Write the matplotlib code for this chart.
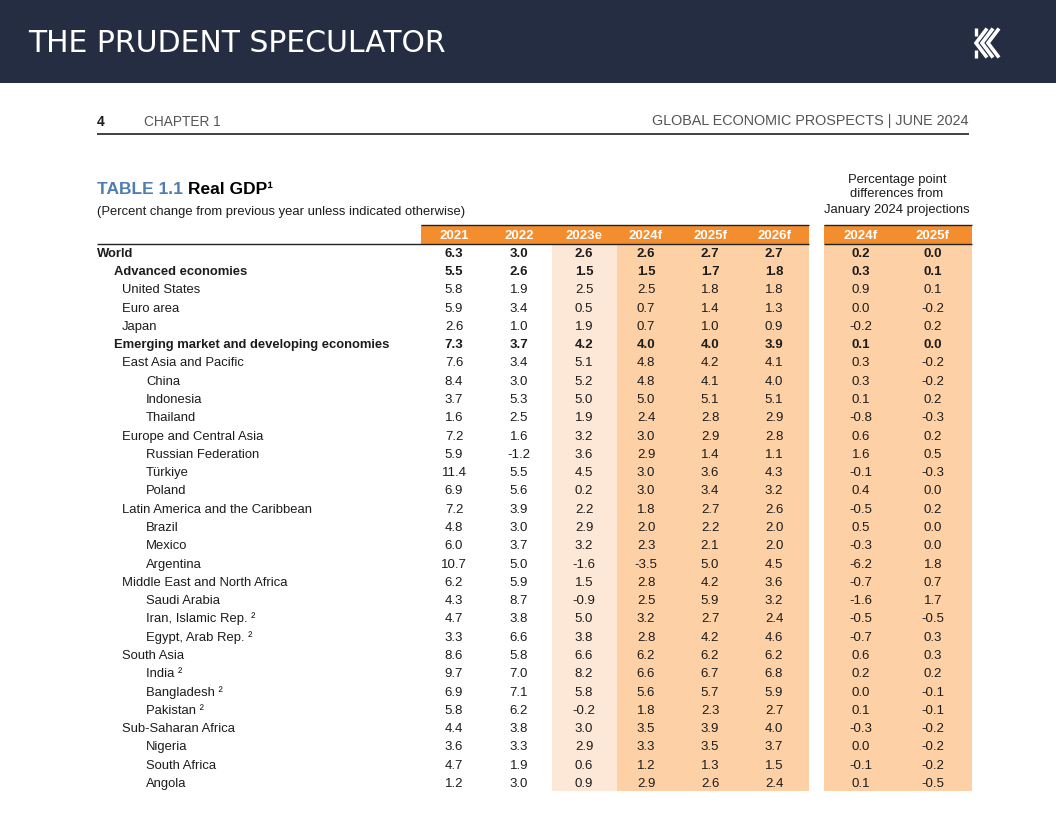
import matplotlib
matplotlib.use("Agg")
import matplotlib.pyplot as plt
from matplotlib.patches import Rectangle

# ---------------- data ----------------
regions = [
    "World", "Advanced economies", "United States", "Euro area", "Japan",
    "Emerging market and developing economies", "East Asia and Pacific",
    "China", "Indonesia", "Thailand", "Europe and Central Asia",
    "Russian Federation", "Türkiye", "Poland", "Latin America and the Caribbean",
    "Brazil", "Mexico", "Argentina", "Middle East and North Africa",
    "Saudi Arabia", "Iran, Islamic Rep. ²", "Egypt, Arab Rep. ²", "South Asia",
    "India ²", "Bangladesh ²", "Pakistan ²", "Sub-Saharan Africa", "Nigeria",
    "South Africa", "Angola",
]
levels = [0, 1, 2, 2, 2, 1, 2, 3, 3, 3, 2, 3, 3, 3, 2, 3, 3, 3, 2, 3, 3, 3, 2,
          3, 3, 3, 2, 3, 3, 3]
bold_rows = ["World", "Advanced economies",
             "Emerging market and developing economies"]

year_cols = ["2021", "2022", "2023e", "2024f", "2025f", "2026f"]
diff_cols = ["2024f", "2025f"]

g2021 = [6.3, 5.5, 5.8, 5.9, 2.6, 7.3, 7.6, 8.4, 3.7, 1.6, 7.2, 5.9, 11.4, 6.9,
         7.2, 4.8, 6.0, 10.7, 6.2, 4.3, 4.7, 3.3, 8.6, 9.7, 6.9, 5.8, 4.4, 3.6,
         4.7, 1.2]
g2022 = [3.0, 2.6, 1.9, 3.4, 1.0, 3.7, 3.4, 3.0, 5.3, 2.5, 1.6, -1.2, 5.5, 5.6,
         3.9, 3.0, 3.7, 5.0, 5.9, 8.7, 3.8, 6.6, 5.8, 7.0, 7.1, 6.2, 3.8, 3.3,
         1.9, 3.0]
g2023 = [2.6, 1.5, 2.5, 0.5, 1.9, 4.2, 5.1, 5.2, 5.0, 1.9, 3.2, 3.6, 4.5, 0.2,
         2.2, 2.9, 3.2, -1.6, 1.5, -0.9, 5.0, 3.8, 6.6, 8.2, 5.8, -0.2, 3.0, 2.9,
         0.6, 0.9]
g2024 = [2.6, 1.5, 2.5, 0.7, 0.7, 4.0, 4.8, 4.8, 5.0, 2.4, 3.0, 2.9, 3.0, 3.0,
         1.8, 2.0, 2.3, -3.5, 2.8, 2.5, 3.2, 2.8, 6.2, 6.6, 5.6, 1.8, 3.5, 3.3,
         1.2, 2.9]
g2025 = [2.7, 1.7, 1.8, 1.4, 1.0, 4.0, 4.2, 4.1, 5.1, 2.8, 2.9, 1.4, 3.6, 3.4,
         2.7, 2.2, 2.1, 5.0, 4.2, 5.9, 2.7, 4.2, 6.2, 6.7, 5.7, 2.3, 3.9, 3.5,
         1.3, 2.6]
g2026 = [2.7, 1.8, 1.8, 1.3, 0.9, 3.9, 4.1, 4.0, 5.1, 2.9, 2.8, 1.1, 4.3, 3.2,
         2.6, 2.0, 2.0, 4.5, 3.6, 3.2, 2.4, 4.6, 6.2, 6.8, 5.9, 2.7, 4.0, 3.7,
         1.5, 2.4]
d2024 = [0.2, 0.3, 0.9, 0.0, -0.2, 0.1, 0.3, 0.3, 0.1, -0.8, 0.6, 1.6, -0.1,
         0.4, -0.5, 0.5, -0.3, -6.2, -0.7, -1.6, -0.5, -0.7, 0.6, 0.2, 0.0, 0.1,
         -0.3, 0.0, -0.1, 0.1]
d2025 = [0.0, 0.1, 0.1, -0.2, 0.2, 0.0, -0.2, -0.2, 0.2, -0.3, 0.2, 0.5, -0.3,
         0.0, 0.2, 0.0, 0.0, 1.8, 0.7, 1.7, -0.5, 0.3, 0.3, 0.2, -0.1, -0.1,
         -0.2, -0.2, -0.2, -0.5]

# ---------------- styling / layout ----------------
NAVY = "#252d42"
ORANGE = "#f48d2e"
PEACH = "#fdd0a6"
LIGHT_PEACH = "#fde7d6"
BLUE = "#4f7db0"
TXT = "#1c1c1c"
GRAY = "#555555"
FONT = "Liberation Sans"

W, H = 1056, 816
fig = plt.figure(figsize=(W / 100, H / 100), dpi=100)
ax = fig.add_axes([0, 0, 1, 1])
ax.set_xlim(0, W)
ax.set_ylim(H, 0)
ax.axis("off")

# top banner
ax.add_patch(Rectangle((0, 0), W, 83, color=NAVY, lw=0))
ax.text(28, 52.5, "THE PRUDENT SPECULATOR", color="white", fontsize=21.5,
        family="DejaVu Sans", va="baseline", ha="left")

# logo: stylised K of nested chevron strokes
for k in range(3):
    xv = 976 + 6 * k
    xe = 987 + 6 * k
    ax.plot([xe, xv, xe], [28.5, 43, 57.5], color="white", lw=2.6,
            solid_joinstyle="miter", solid_capstyle="butt")
ax.plot([975.5, 975.5], [28, 36], color="white", lw=2.4, solid_capstyle="butt")
ax.plot([975.5, 975.5], [50, 58], color="white", lw=2.4, solid_capstyle="butt")

# page header
ax.text(97, 125.5, "4", fontsize=10, weight="bold", family=FONT, color=TXT,
        va="baseline", ha="left")
ax.text(144, 125.5, "CHAPTER 1", fontsize=9.8, family=FONT, color=GRAY,
        va="baseline", ha="left")
ax.text(969, 125.5, "GLOBAL ECONOMIC PROSPECTS | JUNE 2024", fontsize=10.4,
        family=FONT, color=GRAY, va="baseline", ha="right")
ax.plot([97, 969], [133.5, 133.5], color="#333333", lw=1.3,
        solid_capstyle="butt")

# title
t1 = ax.text(97, 194, "TABLE 1.1 ", fontsize=12.5, weight="bold", family=FONT,
             color=BLUE, va="baseline", ha="left")
fig.canvas.draw()
inv = ax.transData.inverted()
x_after = inv.transform((t1.get_window_extent().x1, 0))[0]
ax.text(x_after, 194, "Real GDP\u00b9", fontsize=12.5, weight="bold",
        family=FONT, color="black", va="baseline", ha="left")
ax.text(97, 215.5, "(Percent change from previous year unless indicated otherwise)",
        fontsize=9.4, family=FONT, color=TXT, va="baseline", ha="left")
for yy, line in zip([182.5, 197, 213.5],
                    ["Percentage point", "differences from",
                     "January 2024 projections"]):
    ax.text(897, yy, line, fontsize=9.4, family=FONT, color=TXT,
            va="baseline", ha="center")

# column geometry
col_x = [454, 519, 584, 646, 710, 774]
diff_x = [861, 933]
col_edges = [421, 552, 617, 809]      # main block, light-peach and peach
diff_edges = [824, 972]

head_top, head_bot = 225, 243.5
row0, dy = 252, 18.28
n = len(regions)
body_bot = 791

# header bands
ax.add_patch(Rectangle((col_edges[0], head_top), col_edges[3] - col_edges[0],
                       head_bot - head_top, color=ORANGE, lw=0))
ax.add_patch(Rectangle((diff_edges[0], head_top), diff_edges[1] - diff_edges[0],
                       head_bot - head_top, color=ORANGE, lw=0))
# body shading
ax.add_patch(Rectangle((col_edges[1], head_bot), col_edges[2] - col_edges[1],
                       body_bot - head_bot, color=LIGHT_PEACH, lw=0))
ax.add_patch(Rectangle((col_edges[2], head_bot), col_edges[3] - col_edges[2],
                       body_bot - head_bot, color=PEACH, lw=0))
ax.add_patch(Rectangle((diff_edges[0], head_bot), diff_edges[1] - diff_edges[0],
                       body_bot - head_bot, color=PEACH, lw=0))
# rules
for xs, yv in [([col_edges[0], col_edges[3]], head_top), (diff_edges, head_top),
               ([97, col_edges[3]], head_bot), (diff_edges, head_bot)]:
    ax.plot(xs, [yv, yv], color="#222222", lw=1.0, solid_capstyle="butt")

# header labels
for x, lab in zip(col_x + diff_x, year_cols + diff_cols):
    ax.text(x, 239, lab, fontsize=9.5, weight="bold", family=FONT,
            color="white", va="baseline", ha="center")

indent = {0: 97, 1: 114, 2: 122, 3: 146}
series = [g2021, g2022, g2023, g2024, g2025, g2026]
diffs = [d2024, d2025]

for i, (name, lev) in enumerate(zip(regions, levels)):
    y = row0 + i * dy + 4.8
    wt = "bold" if name in bold_rows else "normal"
    ax.text(indent[lev], y, name, fontsize=9.35, weight=wt, family=FONT,
            color=TXT, va="baseline", ha="left")
    for x, s in zip(col_x + diff_x, series + diffs):
        ax.text(x, y, f"{s[i]:.1f}", fontsize=9.5, weight=wt, family=FONT,
                color=TXT, va="baseline", ha="center")

fig.savefig("out.png", dpi=100, facecolor="white")
